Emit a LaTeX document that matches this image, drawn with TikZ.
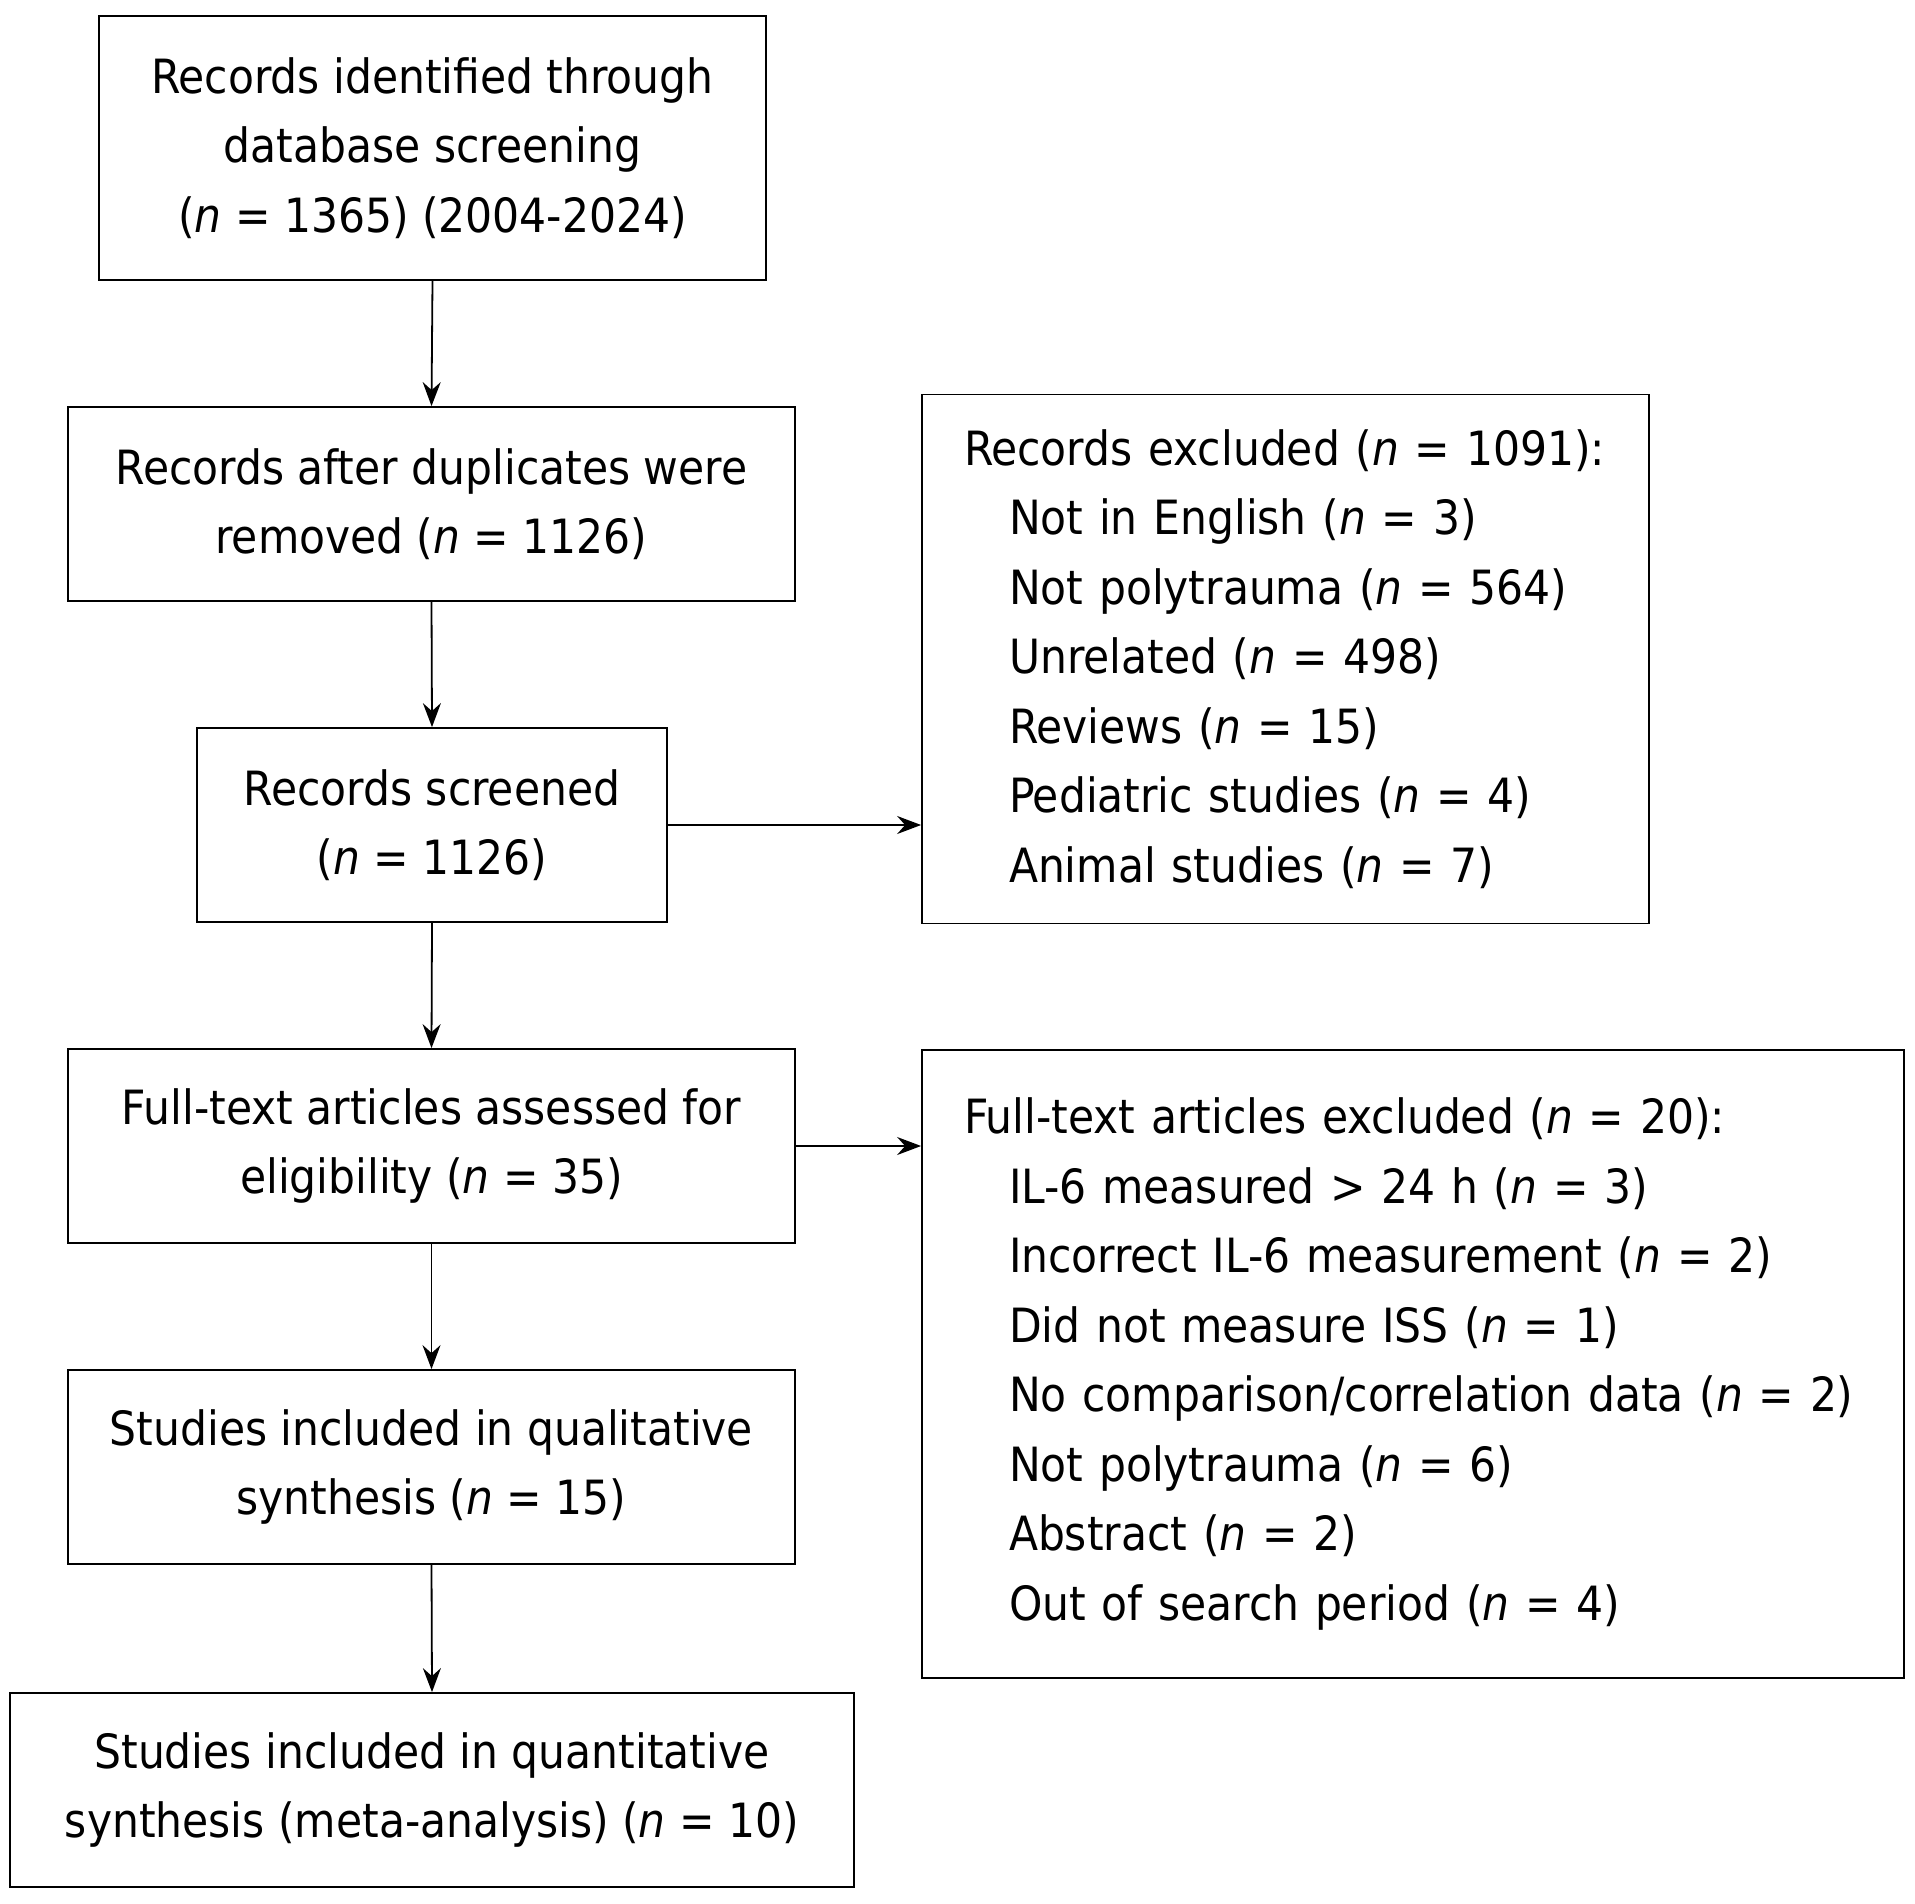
\documentclass[tikz,border=0pt]{standalone}
\usepackage{fontspec}
\setmainfont{DejaVu Sans Condensed}[ItalicFont={DejaVu Sans Condensed Oblique}]
\usetikzlibrary{arrows.meta}
\newcommand{\nn}{\textit{n}}
\newcommand{\ind}{\hspace*{22.5pt}}
\tikzset{
  box/.style={draw=black, line width=0.9pt, rectangle, inner sep=0pt, align=center,
    font=\fontsize{23.6pt}{34.75pt}\selectfont},
  listbox/.style={draw=black, line width=0.9pt, rectangle, inner ysep=0pt, inner xsep=21pt, align=left,
    font=\fontsize{23.6pt}{34.75pt}\selectfont},
  arr/.style={draw=black, line width=0.9pt, -{Stealth[length=12pt,width=9pt,inset=4pt]}}
}
\begin{document}
\begin{tikzpicture}[x=0.5pt,y=-0.5pt]
\useasboundingbox (0,0) rectangle (1915,1904);
\node[box, minimum width=333.5pt, minimum height=132pt] (b1) at (432.5,148)
  {Records identified through\\database screening\\(\nn{} = 1365) (2004-2024)};
\node[box, minimum width=363.5pt, minimum height=97pt] (b2) at (431.5,504)
  {Records after duplicates were\\removed (\nn{} = 1126)};
\node[box, minimum width=235pt, minimum height=97pt] (b3) at (432,825)
  {Records screened\\(\nn{} = 1126)};
\node[box, minimum width=363.5pt, minimum height=97pt] (b4) at (431.5,1146)
  {Full-text articles assessed for\\eligibility (\nn{} = 35)};
\node[box, minimum width=363.5pt, minimum height=97pt] (b5) at (431.5,1467)
  {Studies included in qualitative\\synthesis (\nn{} = 15)};
\node[box, minimum width=422pt, minimum height=97pt] (b6) at (432,1790)
  {Studies included in quantitative\\synthesis (meta-analysis) (\nn{} = 10)};
\node[listbox, text width=321.5pt, minimum height=264.5pt] (r1) at (1285.5,659)
  {Records excluded (\nn{} = 1091):\\
   \ind Not in English (\nn{} = 3)\\
   \ind Not polytrauma (\nn{} = 564)\\
   \ind Unrelated (\nn{} = 498)\\
   \ind Reviews (\nn{} = 15)\\
   \ind Pediatric studies (\nn{} = 4)\\
   \ind Animal studies (\nn{} = 7)};
\node[listbox, text width=449pt, minimum height=314pt] (r2) at (1413,1364)
  {Full-text articles excluded (\nn{} = 20):\\
   \ind IL-6 measured > 24 h (\nn{} = 3)\\
   \ind Incorrect IL-6 measurement (\nn{} = 2)\\
   \ind Did not measure ISS (\nn{} = 1)\\
   \ind No comparison/correlation data (\nn{} = 2)\\
   \ind Not polytrauma (\nn{} = 6)\\
   \ind Abstract (\nn{} = 2)\\
   \ind Out of search period (\nn{} = 4)};
\draw[arr] (b1.south) -- (b2.north);
\draw[arr] (b2.south) -- (b3.north);
\draw[arr] (b3.south) -- (b4.north);
\draw[arr] (b4.south) -- (b5.north);
\draw[arr] (b5.south) -- (b6.north);
\draw[arr] (b3.east) -- (b3.east -| r1.west);
\draw[arr] (b4.east) -- (b4.east -| r2.west);
\end{tikzpicture}
\end{document}
